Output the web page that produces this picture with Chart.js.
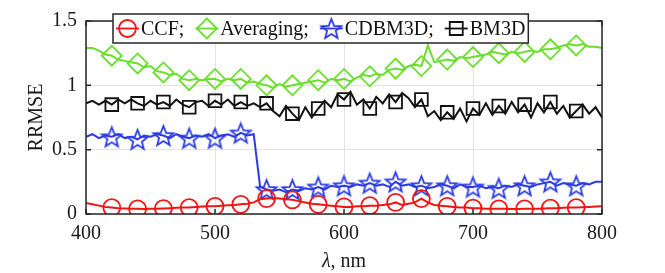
<!DOCTYPE html>
<html>
<head>
<meta charset="utf-8">
<script src="https://cdn.jsdelivr.net/npm/chart.js@4/dist/chart.umd.min.js"></script>
<style>
  html, body { margin: 0; padding: 0; background: #fff; }
</style>
</head>
<body>
<canvas id="rrmseChart" width="665" height="273"></canvas>
<script>
// wavelength grid, nm
const wavelengths = [
  400, 405, 410, 415, 420, 425, 430, 435, 440, 445, 450, 455, 460, 465, 470, 475, 480, 485, 490, 495,
  500, 505, 510, 515, 520, 525, 530, 535, 540, 545, 550, 555, 560, 565, 570, 575, 580, 585, 590, 595,
  600, 605, 610, 615, 620, 625, 630, 635, 640, 645, 650, 655, 660, 665, 670, 675, 680, 685, 690, 695,
  700, 705, 710, 715, 720, 725, 730, 735, 740, 745, 750, 755, 760, 765, 770, 775, 780, 785, 790, 795,
  800
];

const ccf = [
  0.085, 0.075, 0.065, 0.055, 0.050, 0.045, 0.042, 0.040, 0.040, 0.038, 0.040, 0.040, 0.042, 0.045, 0.048, 0.050, 0.050, 0.055, 0.058, 0.060,
  0.060, 0.065, 0.068, 0.070, 0.075, 0.080, 0.090, 0.115, 0.120, 0.125, 0.120, 0.115, 0.110, 0.100, 0.090, 0.080, 0.075, 0.070, 0.065, 0.060,
  0.055, 0.055, 0.060, 0.060, 0.065, 0.065, 0.070, 0.075, 0.090, 0.070, 0.080, 0.090, 0.120, 0.090, 0.070, 0.065, 0.060, 0.055, 0.050, 0.050,
  0.045, 0.045, 0.040, 0.040, 0.040, 0.040, 0.038, 0.038, 0.040, 0.040, 0.040, 0.042, 0.045, 0.045, 0.048, 0.050, 0.050, 0.052, 0.055, 0.058,
  0.060
];

const averaging = [
  1.29, 1.29, 1.27, 1.24, 1.23, 1.20, 1.19, 1.18, 1.17, 1.14, 1.15, 1.11, 1.10, 1.08, 1.09, 1.05, 1.04, 1.05, 1.04, 1.05,
  1.05, 1.03, 1.05, 1.04, 1.05, 1.02, 1.03, 1.01, 1.00, 0.98, 1.01, 0.99, 1.00, 1.01, 1.02, 1.03, 1.04, 1.02, 1.05, 1.04,
  1.05, 1.03, 1.06, 1.08, 1.07, 1.09, 1.08, 1.12, 1.13, 1.12, 1.15, 1.16, 1.15, 1.31, 1.18, 1.19, 1.20, 1.19, 1.22, 1.21,
  1.22, 1.23, 1.24, 1.26, 1.25, 1.24, 1.26, 1.25, 1.26, 1.27, 1.26, 1.28, 1.28, 1.29, 1.31, 1.32, 1.31, 1.32, 1.30, 1.30,
  1.29
];

const cdbm3d = [
  0.60, 0.62, 0.59, 0.61, 0.60, 0.62, 0.59, 0.60, 0.58, 0.61, 0.60, 0.62, 0.61, 0.59, 0.62, 0.60, 0.59, 0.61, 0.60, 0.62,
  0.59, 0.61, 0.62, 0.60, 0.63, 0.61, 0.62, 0.21, 0.19, 0.18, 0.19, 0.17, 0.19, 0.18, 0.20, 0.19, 0.21, 0.19, 0.22, 0.21,
  0.22, 0.21, 0.23, 0.22, 0.24, 0.22, 0.23, 0.21, 0.25, 0.22, 0.23, 0.21, 0.22, 0.20, 0.21, 0.23, 0.22, 0.20, 0.23, 0.21,
  0.21, 0.22, 0.20, 0.21, 0.20, 0.22, 0.21, 0.23, 0.22, 0.21, 0.23, 0.24, 0.25, 0.22, 0.24, 0.23, 0.22, 0.24, 0.23, 0.25,
  0.25
];

const bm3d = [
  0.86, 0.88, 0.85, 0.88, 0.85, 0.89, 0.86, 0.89, 0.86, 0.84, 0.88, 0.85, 0.87, 0.84, 0.89, 0.85, 0.83, 0.87, 0.88, 0.84,
  0.88, 0.85, 0.89, 0.84, 0.87, 0.84, 0.86, 0.83, 0.86, 0.80, 0.76, 0.84, 0.78, 0.73, 0.83, 0.75, 0.82, 0.88, 0.83, 0.93,
  0.89, 0.95, 0.85, 0.89, 0.82, 0.91, 0.86, 0.93, 0.87, 0.94, 0.90, 0.83, 0.89, 0.76, 0.80, 0.73, 0.79, 0.74, 0.82, 0.72,
  0.82, 0.77, 0.86, 0.77, 0.84, 0.78, 0.87, 0.79, 0.85, 0.75, 0.86, 0.79, 0.87, 0.78, 0.84, 0.75, 0.80, 0.85, 0.78, 0.83,
  0.75
];

const xTicks = [400, 500, 600, 700, 800];
const yTicks = [0, 0.5, 1, 1.5];

const RED = "#f01414";
const GREEN = "#6ade2c";
const BLUE = "#2a3be6";
const BLACK = "#111111";
const SERIF = '"Liberation Serif", "Times New Roman", serif';

// markers every 20 nm, from 420 to 780
function hasMarker(i) {
  const w = wavelengths[i];
  return w % 20 === 0 && w >= 420 && w <= 780;
}

function makeStar(color, outer, inner) {
  const size = Math.ceil(outer * 2 + 4);
  const c = document.createElement("canvas");
  c.width = size;
  c.height = size;
  const g = c.getContext("2d");
  const cx = size / 2, cy = size / 2 + 1;
  g.beginPath();
  for (let k = 0; k < 10; k++) {
    const r = k % 2 === 0 ? outer : inner;
    const a = -Math.PI / 2 + k * Math.PI / 5;
    const px = cx + r * Math.cos(a), py = cy + r * Math.sin(a);
    if (k === 0) g.moveTo(px, py); else g.lineTo(px, py);
  }
  g.closePath();
  g.strokeStyle = color;
  g.lineWidth = 1.8;
  g.stroke();
  return c;
}
const starImg = makeStar(BLUE, 10.5, 4.6);

function series(label, values, color, style, radius) {
  return {
    label: label,
    data: wavelengths.map((w, i) => ({ x: w, y: values[i] })),
    borderColor: color,
    borderWidth: 2,
    pointStyle: style,
    pointRadius: ctx => hasMarker(ctx.dataIndex) ? radius : 0,
    pointBorderColor: color,
    pointBackgroundColor: "rgba(0,0,0,0)",
    pointBorderWidth: 1.8,
    tension: 0
  };
}

const legendItems = [
  { label: "CCF;", color: RED, marker: "circle" },
  { label: "Averaging;", color: GREEN, marker: "diamond" },
  { label: "CDBM3D;", color: BLUE, marker: "star" },
  { label: "BM3D", color: BLACK, marker: "square" }
];

function drawLegendMarker(ctx, kind, color, x, y) {
  ctx.strokeStyle = color;
  ctx.lineWidth = 1.8;
  ctx.beginPath();
  if (kind === "circle") {
    ctx.arc(x, y, 8.5, 0, Math.PI * 2);
    ctx.stroke();
  } else if (kind === "diamond") {
    ctx.moveTo(x, y - 10); ctx.lineTo(x + 10, y); ctx.lineTo(x, y + 10); ctx.lineTo(x - 10, y);
    ctx.closePath();
    ctx.stroke();
  } else if (kind === "square") {
    ctx.rect(x - 6.5, y - 6.5, 13, 13);
    ctx.stroke();
  } else {
    ctx.drawImage(starImg, x - starImg.width / 2, y - starImg.height / 2);
  }
}

const framePlugin = {
  id: "frame",
  afterDatasetsDraw(chart) {
    const { ctx, chartArea: a, scales: { x, y } } = chart;
    ctx.save();
    ctx.strokeStyle = "#262626";
    ctx.lineWidth = 1.5;
    ctx.strokeRect(a.left, a.top, a.right - a.left, a.bottom - a.top);
    ctx.beginPath();
    for (const t of xTicks) {
      const px = x.getPixelForValue(t);
      ctx.moveTo(px, a.bottom); ctx.lineTo(px, a.bottom - 5);
      ctx.moveTo(px, a.top); ctx.lineTo(px, a.top + 5);
    }
    for (const t of yTicks) {
      const py = y.getPixelForValue(t);
      ctx.moveTo(a.left, py); ctx.lineTo(a.left + 5, py);
      ctx.moveTo(a.right, py); ctx.lineTo(a.right - 5, py);
    }
    ctx.stroke();

    // x axis title with italic lambda
    ctx.fillStyle = "#1a1a1a";
    ctx.textBaseline = "middle";
    const lam = "\u03bb", rest = ", nm";
    ctx.font = "italic 20px " + SERIF;
    const w1 = ctx.measureText(lam).width;
    ctx.font = "20px " + SERIF;
    const w2 = ctx.measureText(rest).width;
    const cx = (a.left + a.right) / 2;
    const tx = cx - (w1 + w2) / 2;
    ctx.font = "italic 20px " + SERIF;
    ctx.fillText(lam, tx, 262);
    ctx.font = "20px " + SERIF;
    ctx.fillText(rest, tx + w1, 262);
    ctx.restore();
  },
  afterDraw(chart) {
    const ctx = chart.ctx;
    ctx.save();
    ctx.font = "20px " + SERIF;
    ctx.textBaseline = "middle";
    const top = 14, h = 29, left = 113;
    const cy = top + h / 2;
    let x = left + 3;
    const parts = [];
    for (const item of legendItems) {
      const tw = ctx.measureText(item.label).width;
      parts.push({ item, x, tw });
      x += 26 + tw + 10;
    }
    const right = x - 8;
    ctx.fillStyle = "#fff";
    ctx.fillRect(left, top, right - left, h);
    ctx.strokeStyle = "#262626";
    ctx.lineWidth = 1.5;
    ctx.strokeRect(left, top, right - left, h);
    for (const p of parts) {
      ctx.strokeStyle = p.item.color;
      ctx.lineWidth = 1.8;
      ctx.beginPath();
      ctx.moveTo(p.x, cy); ctx.lineTo(p.x + 23, cy);
      ctx.stroke();
      drawLegendMarker(ctx, p.item.marker, p.item.color, p.x + 11.5, cy);
      ctx.fillStyle = "#111";
      ctx.fillText(p.item.label, p.x + 25, cy + 1);
    }
    ctx.restore();
  }
};

new Chart(document.getElementById("rrmseChart"), {
  type: "line",
  data: {
    datasets: [
      series("CCF", ccf, RED, "circle", 8.5),
      series("Averaging", averaging, GREEN, "rectRot", 10),
      series("CDBM3D", cdbm3d, BLUE, starImg, 10),
      series("BM3D", bm3d, BLACK, "rect", 9)
    ]
  },
  options: {
    responsive: false,
    animation: false,
    layout: { padding: { left: 21, right: 63, top: 19, bottom: 0 } },
    plugins: { legend: { display: false }, tooltip: { enabled: false } },
    scales: {
      x: {
        type: "linear",
        min: 400,
        max: 800,
        afterBuildTicks: s => { s.ticks = xTicks.map(v => ({ value: v })); },
        afterFit: s => { s.height = 59; },
        grid: { color: "#e3e3e3", lineWidth: 1, drawTicks: false },
        border: { display: false },
        ticks: { color: "#1a1a1a", font: { family: SERIF, size: 20 }, padding: 8, maxRotation: 0 }
      },
      y: {
        min: 0,
        max: 1.5,
        afterBuildTicks: s => { s.ticks = yTicks.map(v => ({ value: v })); },
        afterFit: s => { s.width = 65; },
        grid: { color: "#e3e3e3", lineWidth: 1, drawTicks: false },
        border: { display: false },
        ticks: { color: "#1a1a1a", font: { family: SERIF, size: 20 }, padding: 9, callback: v => String(v) },
        title: { display: true, text: "RRMSE", color: "#1a1a1a", font: { family: SERIF, size: 20 } }
      }
    }
  },
  plugins: [framePlugin]
});
</script>
</body>
</html>
